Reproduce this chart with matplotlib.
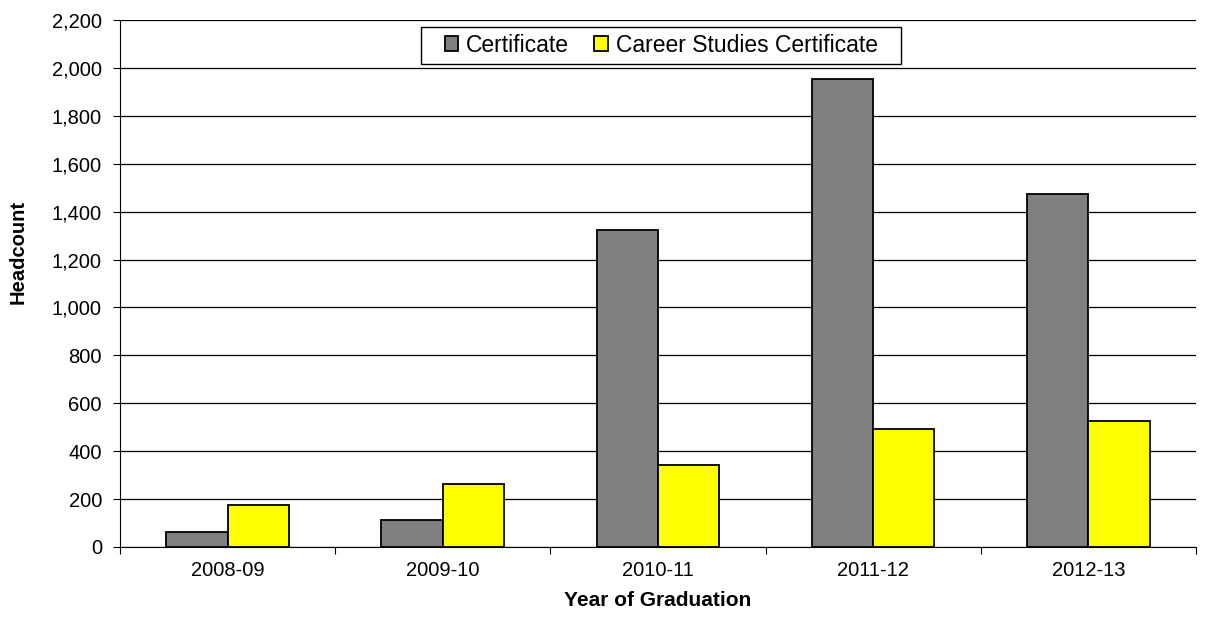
import matplotlib.pyplot as plt
import numpy as np
from matplotlib.patches import Rectangle
from matplotlib.ticker import FuncFormatter, FixedLocator

plt.rcParams["font.family"] = ["Liberation Sans", "DejaVu Sans"]

years = ["2008-09", "2009-10", "2010-11", "2011-12", "2012-13"]
certificate = [61, 111, 1325, 1952, 1473]
career_studies = [174, 264, 344, 491, 526]

fig = plt.figure(figsize=(12.13, 6.18), dpi=100)
ax = fig.add_axes([0.0989, 0.115, 0.887, 0.8525])

x = np.arange(len(years))
width = 0.285
ax.bar(x - width / 2, certificate, width, color="#808080", edgecolor="black",
       linewidth=1.3, label="Certificate", zorder=3)
ax.bar(x + width / 2, career_studies, width, color="#ffff00", edgecolor="black",
       linewidth=1.3, label="Career Studies Certificate", zorder=3)

ax.set_ylim(0, 2200)
ax.set_xlim(-0.5, len(years) - 0.5)
ax.set_yticks(np.arange(0, 2201, 200))
ax.yaxis.set_major_formatter(FuncFormatter(lambda v, p: f"{int(v):,}"))
ax.yaxis.grid(True, color="black", linewidth=0.9, zorder=0)

ax.xaxis.set_major_locator(FixedLocator(np.arange(-0.5, len(years), 1.0)))
ax.set_xticklabels([])
ax.set_xticks(x, minor=True)
ax.set_xticklabels(years, minor=True)
ax.tick_params(axis="x", which="minor", length=0, pad=10, labelsize=14.5)
ax.tick_params(axis="x", which="major", length=5, direction="out")
ax.tick_params(axis="y", length=5, direction="out", labelsize=14.5, pad=8)

for side in ["top", "right"]:
    ax.spines[side].set_visible(False)

ax.set_xlabel("Year of Graduation", fontsize=15, fontweight="bold")
ax.xaxis.set_label_coords(0.5, -0.083)
ax.set_ylabel("Headcount", fontsize=14.5, fontweight="bold")
ax.yaxis.set_label_coords(-0.086, 0.56)

leg = ax.legend(loc="upper center", bbox_to_anchor=(0.503, 1.0), ncol=2,
                fontsize=16.5, frameon=False, handlelength=0.6, handleheight=0.6,
                handletextpad=0.33, columnspacing=1.1, borderpad=0.3,
                borderaxespad=0.3)
leg.set_zorder(5)

# legend box with wider side padding, like the source chart
fig.canvas.draw()
bb = leg.get_window_extent()
box = Rectangle((bb.x0 - 17, bb.y0), bb.width + 34, bb.height, transform=None,
                facecolor="white", edgecolor="black", linewidth=1.0,
                clip_on=False, zorder=4)
ax.add_patch(box)

fig.savefig("out.png", dpi=100)
